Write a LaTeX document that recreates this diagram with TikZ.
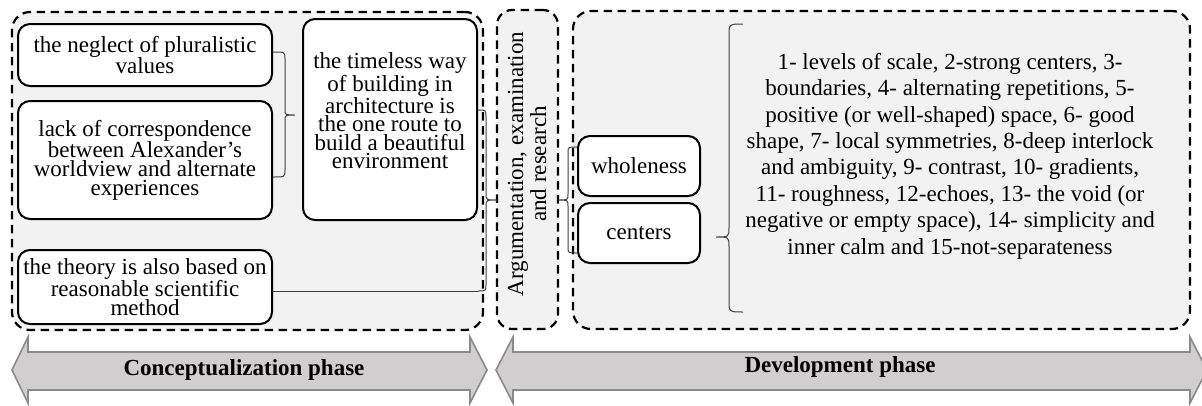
\documentclass[tikz,border=0pt]{standalone}
\usepackage{fontspec}
\setmainfont{Liberation Serif}
\definecolor{panelgray}{HTML}{F2F2F2}
\definecolor{arrowgray}{HTML}{D0CECE}
\definecolor{arrowedge}{HTML}{8A8A8A}
\definecolor{bracegray}{HTML}{404040}
\begin{document}
\begin{tikzpicture}[x=1pt,y=-1pt,
  phasebox/.style={draw=black, line width=2.2pt, dash pattern=on 8.5pt off 5.5pt, fill=panelgray, rounded corners=18pt, inner sep=0pt},
  card/.style={draw=black, line width=2pt, fill=white, rounded corners=12pt, align=center, inner sep=0pt, font=\fontsize{23}{18.6}\selectfont},
  bracepath/.style={draw=bracegray, line width=1pt},
  phasearrow/.style={fill=arrowgray, draw=arrowedge, line width=1.6pt, line join=miter},
  phaselabel/.style={font=\bfseries\fontsize{23}{23}\selectfont, inner sep=0pt},
  listtext/.style={align=center, inner sep=0pt, font=\fontsize{23}{26.4}\selectfont}]
\clip (0,0) rectangle (1202,405);
\fill[white] (0,0) rectangle (1202,405);

% phase panels
\node[phasebox, minimum width=471pt, minimum height=318pt] (concept) at (247.5,171) {};
\node[phasebox, rounded corners=15pt, minimum width=61pt, minimum height=319pt] (argbox) at (527.5,169.5) {};
\node[phasebox, minimum width=617pt, minimum height=318pt] (devbox) at (881.5,170) {};

% cards
\node[card, minimum width=254pt, minimum height=62pt] (neglect) at (145,55) {the neglect of pluralistic\\values};
\node[card, minimum width=254pt, minimum height=118pt] (lack) at (145,160) {lack of correspondence\\between Alexander’s\\worldview and alternate\\experiences};
\node[card, minimum width=174pt, minimum height=201pt,
  label={[align=center, inner sep=0pt, font=\fontsize{23}{18.6}\selectfont, yshift=8.5pt]center:the timeless way\\of building in\\architecture is\\the one route to\\build a beautiful\\environment}] (timeless) at (390,119.5) {};
\node[card, minimum width=254pt, minimum height=74pt] (theory) at (145,287) {the theory is also based on\\reasonable scientific\\method};
\node[card, minimum width=122pt, minimum height=60pt] (wholeness) at (639,166) {wholeness};
\node[card, minimum width=122pt, minimum height=60pt] (centers) at (639,233) {centers};

% argumentation text
\node[align=center, inner sep=0pt, rotate=90, font=\fontsize{23}{23}\selectfont] (argtext) at (527,164) {Argumentation, examination\\and research};

% list text
\node[listtext] (list) at (950,156) {1- levels of scale, 2-strong centers, 3-\\boundaries, 4- alternating repetitions, 5-\\positive (or well-shaped) space, 6- good\\shape, 7- local symmetries, 8-deep interlock\\and ambiguity, 9- contrast, 10- gradients,\\11- roughness, 12-echoes, 13- the void (or\\negative or empty space), 14- simplicity and\\inner calm and 15-not-separateness};

% brace end points
\coordinate (b1t) at (273,52);
\coordinate (b1b) at (273,177);
\coordinate (b1tip) at (295,115);
\coordinate (b2t) at (478,110);
\coordinate (b2b) at (478,291);
\coordinate (b2tip) at (498,200);
\coordinate (b3t) at (577,147);
\coordinate (b3b) at (577,253);
\coordinate (b3tip) at (558,200);
\coordinate (b4t) at (743,24);
\coordinate (b4b) at (743,312);
\coordinate (b4tip) at (716,237);

% brace 1: left cards -> timeless
\draw[bracepath] (b1t) .. controls (285,52) .. (285,59) -- (285,109) .. controls (285,115) .. (b1tip)
  .. controls (285,115) .. (285,121) -- (285,170) .. controls (285,177) .. (b1b);
% brace 2: timeless + theory -> argumentation
\draw[bracepath] (theory.east |- b2b) -- (b2b);
\draw[bracepath] (b2t) .. controls (486,110) .. (486,117) -- (486,194) .. controls (486,200) .. (b2tip)
  .. controls (486,200) .. (486,206) -- (486,284) .. controls (486,291) .. (b2b);
% brace 3: argumentation -> wholeness / centers
\draw[bracepath] (b3t) .. controls (568,147) .. (568,153) -- (568,194) .. controls (568,200) .. (b3tip)
  .. controls (568,200) .. (568,206) -- (568,247) .. controls (568,253) .. (b3b);
% brace 4: centers -> list
\draw[bracepath] (b4t) .. controls (729,24) .. (729,36) -- (729,227) .. controls (729,237) .. (b4tip)
  .. controls (729,237) .. (729,247) -- (729,300) .. controls (729,312) .. (b4b);

% phase arrows
\draw[phasearrow] (12,370) -- (28,337) -- (28,352) -- (470,352) -- (470,337) -- (487,370) -- (470,403) -- (470,390) -- (28,390) -- (28,403) -- cycle;
\draw[phasearrow] (496,370) -- (513,337) -- (513,352) -- (1190,352) -- (1190,337) -- (1207,370) -- (1190,403) -- (1190,390) -- (513,390) -- (513,403) -- cycle;
\node[phaselabel] (conlabel) at (244,370) {Conceptualization phase};
\node[phaselabel] (devlabel) at (840,367) {Development phase};
\end{tikzpicture}
\end{document}
